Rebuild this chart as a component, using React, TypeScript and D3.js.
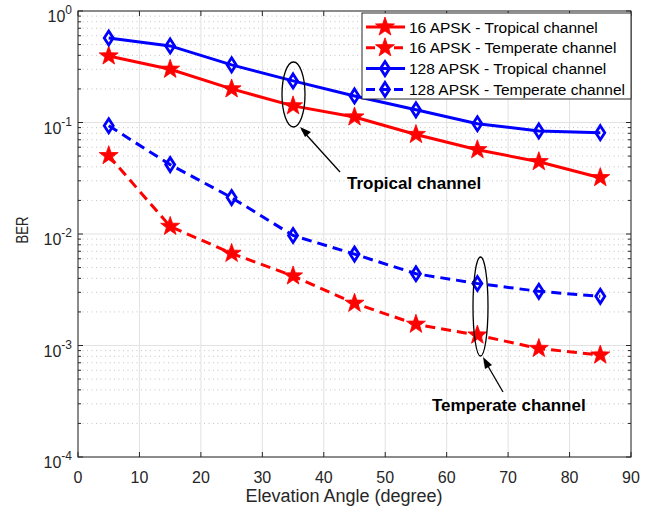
import React from "react";
import * as d3 from "d3";

const angles = [5, 15, 25, 35, 45, 55, 65, 75, 85];
const apsk16Tropical = [0.395, 0.3, 0.2, 0.141, 0.112, 0.078, 0.057, 0.0445, 0.032];
const apsk16Temperate = [0.0504, 0.0117, 0.0067, 0.0042, 0.00239, 0.00155, 0.00124, 0.00094, 0.00082];
const apsk128Tropical = [0.573, 0.486, 0.329, 0.236, 0.173, 0.13, 0.0975, 0.084, 0.081];
const apsk128Temperate = [0.0935, 0.0419, 0.0212, 0.0097, 0.0066, 0.0044, 0.0036, 0.00306, 0.00276];
const xTicks = [0, 10, 20, 30, 40, 50, 60, 70, 80, 90];
const yExps = [0, -1, -2, -3, -4];
const seriesNames = [
  "16 APSK - Tropical channel",
  "16 APSK - Temperate channel",
  "128 APSK - Tropical channel",
  "128 APSK - Temperate channel",
];

const W = 656, H = 510;
const L = 78, R = 631, T = 11, B = 457;
const FONT = "'Liberation Sans', Arial, Helvetica, sans-serif";
const AX = "#262626";

function starPath(cx: number, cy: number, r: number) {
  const ri = r * 0.4;
  const pts: string[] = [];
  for (let i = 0; i < 10; i++) {
    const a = -Math.PI / 2 + (i * Math.PI) / 5;
    const rr = i % 2 === 0 ? r : ri;
    pts.push(`${cx + rr * Math.cos(a)},${cy + rr * Math.sin(a)}`);
  }
  return "M" + pts.join("L") + "Z";
}
function diamondPath(cx: number, cy: number, w: number, h: number) {
  return `M${cx},${cy - h}L${cx + w},${cy}L${cx},${cy + h}L${cx - w},${cy}Z`;
}

export default function App() {
  const x = d3.scaleLinear().domain([0, 90]).range([L, R]);
  const y = d3.scaleLog().domain([1e-4, 1]).range([B, T]);
  const line = d3
    .line<number>()
    .x((_, i) => x(angles[i]))
    .y((d) => y(d));

  const series = [
    { vals: apsk16Tropical, color: "#ff0000", dash: undefined, marker: "star" },
    { vals: apsk16Temperate, color: "#ff0000", dash: "10,6", marker: "star" },
    { vals: apsk128Tropical, color: "#0000ff", dash: undefined, marker: "diamond" },
    { vals: apsk128Temperate, color: "#0000ff", dash: "10,6", marker: "diamond" },
  ];

  const minor: number[] = [];
  for (let e = -4; e < 0; e++) for (let m = 2; m <= 9; m++) minor.push(m * Math.pow(10, e));

  const marker = (kind: string, cx: number, cy: number, color: string, k: number) =>
    kind === "star" ? (
      <path key={k} d={starPath(cx, cy, 10)} fill={color} stroke={color} strokeWidth={0.8} />
    ) : (
      <path key={k} d={diamondPath(cx, cy, 4.5, 7)} fill="none" stroke={color} strokeWidth={2.8} />
    );

  const legX = 362, legY = 13, legW = 269, legH = 86;

  return (
    <svg width={W} height={H} style={{ position: "absolute", left: 0, top: 0, background: "#fff" }} fontFamily={FONT}>
      <rect x={0} y={0} width={W} height={H} fill="#fff" />
      {/* minor grid */}
      {minor.map((v, i) => (
        <line key={"mg" + i} x1={L} x2={R} y1={y(v)} y2={y(v)} stroke="#c4c4c4" strokeWidth={1} strokeDasharray="1,3.5" />
      ))}
      {/* major grid */}
      {xTicks.map((t) => (
        <line key={"gx" + t} x1={x(t)} x2={x(t)} y1={T} y2={B} stroke="#e2e2e2" strokeWidth={1} />
      ))}
      {yExps.map((e) => (
        <line key={"gy" + e} x1={L} x2={R} y1={y(Math.pow(10, e))} y2={y(Math.pow(10, e))} stroke="#e2e2e2" strokeWidth={1} />
      ))}
      {/* axes box */}
      <rect x={L} y={T} width={R - L} height={B - T} fill="none" stroke={AX} strokeWidth={1} />
      {xTicks.map((t) => (
        <g key={"xt" + t}>
          <line x1={x(t)} x2={x(t)} y1={B} y2={B - 5} stroke={AX} />
          <line x1={x(t)} x2={x(t)} y1={T} y2={T + 5} stroke={AX} />
          <text x={x(t)} y={B + 26} textAnchor="middle" fontSize={16} fill={AX}>
            {t}
          </text>
        </g>
      ))}
      {yExps.map((e) => {
        const yy = y(Math.pow(10, e));
        return (
          <g key={"yt" + e}>
            <line x1={L} x2={L + 5} y1={yy} y2={yy} stroke={AX} />
            <line x1={R} x2={R - 5} y1={yy} y2={yy} stroke={AX} />
            <text x={72} y={yy + 11} textAnchor="end" fontSize={16} fill={AX}>
              10<tspan dy={-8} fontSize={12}>{e}</tspan>
            </text>
          </g>
        );
      })}
      {minor.map((v, i) => (
        <g key={"ym" + i}>
          <line x1={L} x2={L + 3} y1={y(v)} y2={y(v)} stroke={AX} />
          <line x1={R} x2={R - 3} y1={y(v)} y2={y(v)} stroke={AX} />
        </g>
      ))}
      <text x={344} y={502} textAnchor="middle" fontSize={18} fill={AX}>
        Elevation Angle (degree)
      </text>
      <text
        transform={`translate(28,230) rotate(-90)`}
        textAnchor="middle"
        fontSize={16.5}
        fill={AX}
        textLength={27}
        lengthAdjust="spacingAndGlyphs"
      >
        BER
      </text>

      {/* series */}
      {series.map((s, si) => (
        <g key={"s" + si}>
          <path d={line(s.vals) || ""} fill="none" stroke={s.color} strokeWidth={3} strokeDasharray={s.dash} />
          {s.vals.map((v, i) => marker(s.marker, x(angles[i]), y(v), s.color, i))}
        </g>
      ))}

      {/* annotations */}
      <ellipse cx={293.5} cy={94.5} rx={11.5} ry={32.5} fill="none" stroke="#000" strokeWidth={1.3} />
      <line x1={340} y1={172} x2={302} y2={130} stroke="#000" strokeWidth={1.3} />
      <path d="M300,127 L311,132 L305,137 Z" fill="#000" />
      <text x={347} y={189} fontSize={17} fontWeight="bold" fill="#000">
        Tropical channel
      </text>
      <ellipse cx={480.5} cy={306.5} rx={7.5} ry={49.5} fill="none" stroke="#000" strokeWidth={1.3} />
      <line x1={503} y1={392} x2={485} y2={361} stroke="#000" strokeWidth={1.3} />
      <path d="M483,357 L492,365 L485,369 Z" fill="#000" />
      <text x={432} y={411} fontSize={17} fontWeight="bold" fill="#000">
        Temperate channel
      </text>

      {/* legend */}
      <rect x={legX} y={legY} width={legW} height={legH} fill="#fff" stroke={AX} strokeWidth={1} />
      {series.map((s, i) => {
        const ly = 27 + i * 20.8;
        return (
          <g key={"lg" + i}>
            <line x1={366} x2={405} y1={ly} y2={ly} stroke={s.color} strokeWidth={3} strokeDasharray={s.dash ? "9,5" : undefined} />
            {marker(s.marker, 385, ly, s.color, i)}
            <text x={409} y={ly + 5.5} fontSize={15.5} fill="#000">
              {seriesNames[i]}
            </text>
          </g>
        );
      })}
    </svg>
  );
}
